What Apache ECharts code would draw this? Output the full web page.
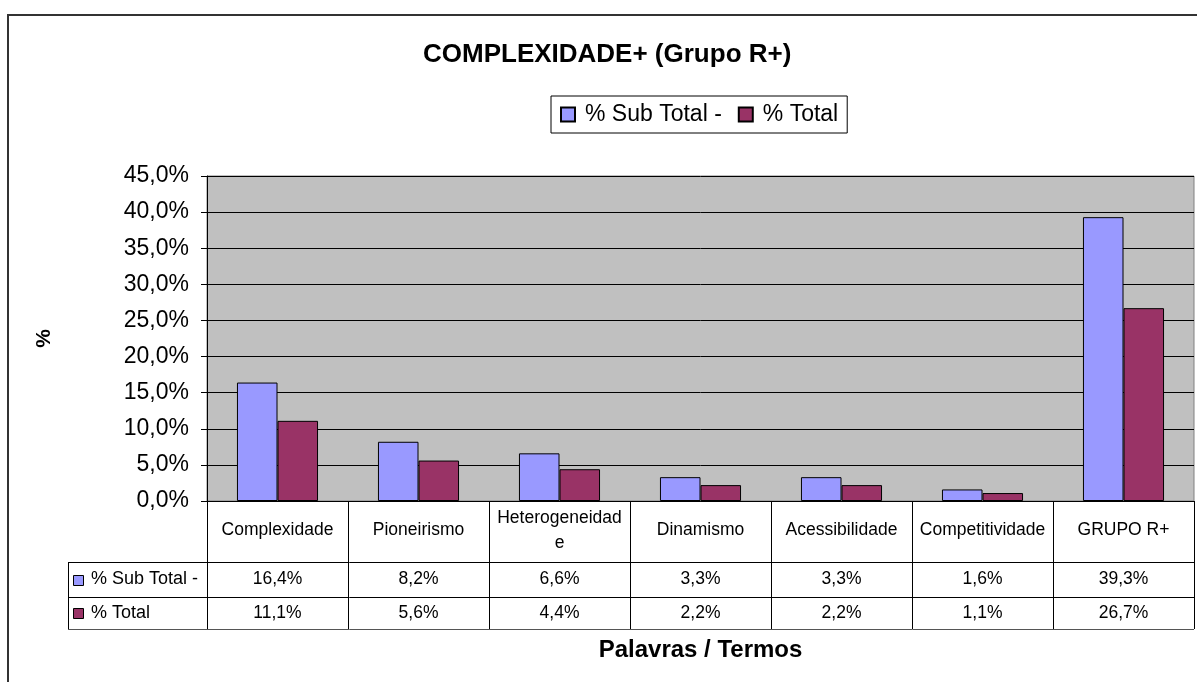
<html lang="pt">
  <head>
    <meta charset="UTF-8" />
    <title>COMPLEXIDADE+ (Grupo R+)</title>
    <style>
      html, body { margin: 0; padding: 0; background: #fff; }
    </style>
  </head>
  <body>
    <div id="main" style="width: 1197px; height: 682px"></div>

    <script src="https://cdn.jsdelivr.net/npm/echarts@6/dist/echarts.min.js"></script>
    <script>
      // dados do gráfico
      const categories = ['Complexidade', 'Pioneirismo', 'Heterogeneidade', 'Dinamismo', 'Acessibilidade', 'Competitividade', 'GRUPO R+']
      const seriesNames = ['% Sub Total -', '% Total']
      const subTotal = [16.4, 8.2, 6.6, 3.3, 3.3, 1.6, 39.3]
      const total = [11.1, 5.6, 4.4, 2.2, 2.2, 1.1, 26.7]
      const colors = ['#9999FF', '#993366']

      const font = 'Arial, "Liberation Sans", sans-serif'
      const fmt = v => v.toFixed(1).replace('.', ',') + '%'

      const chart = echarts.init(document.querySelector('#main'))

      let option = {
        animation: false,
        textStyle: { fontFamily: font, color: '#000' },
        title: {
          text: 'COMPLEXIDADE+ (Grupo R+)',
          left: 423,
          top: 42,
          padding: 0,
          textStyle: { fontSize: 26, fontWeight: 'bold', color: '#000', fontFamily: font }
        },
        legend: {
          left: 551,
          top: 96,
          padding: [7, 9, 7, 9],
          borderColor: '#000',
          borderWidth: 1,
          backgroundColor: '#fff',
          itemWidth: 14,
          itemHeight: 14,
          itemGap: 16,
          icon: 'rect',
          textStyle: { fontSize: 23, color: '#000', fontFamily: font, padding: [0, 0, 0, 5] },
          data: seriesNames
        },
        grid: {
          left: 207,
          right: 3,
          top: 176,
          bottom: 181,
          show: true,
          backgroundColor: '#C0C0C0',
          borderColor: '#808080',
          borderWidth: 1
        },
        xAxis: {
          type: 'category',
          data: categories,
          axisLine: { lineStyle: { color: '#000', width: 1 } },
          axisTick: { show: false },
          axisLabel: { show: false },
          name: 'Palavras / Termos',
          nameLocation: 'middle',
          nameGap: 137,
          nameTextStyle: { fontSize: 24, fontWeight: 'bold', color: '#000', fontFamily: font }
        },
        yAxis: {
          type: 'value',
          min: 0,
          max: 45,
          interval: 5,
          axisLine: { show: true, lineStyle: { color: '#000', width: 1 } },
          axisTick: { show: true, length: 6, lineStyle: { color: '#000' } },
          axisLabel: { fontSize: 23, color: '#000', margin: 18, formatter: fmt },
          splitLine: { lineStyle: { color: '#000', width: 1 } },
          name: '%',
          nameLocation: 'middle',
          nameGap: 152,
          nameRotate: 90,
          nameTextStyle: { fontSize: 21, fontWeight: 'bold', color: '#000', fontFamily: font }
        },
        series: [
          {
            name: seriesNames[0],
            type: 'bar',
            data: subTotal,
            barGap: '0%',
            barCategoryGap: '42.5%',
            itemStyle: { color: colors[0], borderColor: '#000', borderWidth: 1 }
          },
          {
            name: seriesNames[1],
            type: 'bar',
            data: total,
            itemStyle: { color: colors[1], borderColor: '#000', borderWidth: 1 }
          }
        ]
      }
      chart.setOption(option)

      // tabela de dados abaixo do eixo
      const xa = chart.convertToPixel({ xAxisIndex: 0 }, 0)
      const xb = chart.convertToPixel({ xAxisIndex: 0 }, 1)
      const band = xb - xa
      const yBase = chart.convertToPixel({ yAxisIndex: 0 }, 0)
      const tableLeft = 68
      const colLeft = xa - band / 2
      const colRight = colLeft + band * categories.length
      const rows = [yBase, yBase + 61, yBase + 96, yBase + 128]

      const g = []
      const line = (x1, y1, x2, y2, color) => g.push({
        type: 'line',
        shape: { x1, y1, x2, y2 },
        style: { stroke: color || '#000', lineWidth: 1 },
        silent: true
      })

      for (let i = 0; i <= categories.length; i++) {
        const x = Math.round(colLeft + band * i) + 0.5
        line(x, rows[0], x, rows[3])
      }
      line(tableLeft + 0.5, rows[1], tableLeft + 0.5, rows[3])
      line(tableLeft, Math.round(rows[1]) + 0.5, colRight, Math.round(rows[1]) + 0.5)
      line(tableLeft, Math.round(rows[2]) + 0.5, colRight, Math.round(rows[2]) + 0.5)
      line(tableLeft, Math.round(rows[3]) + 0.5, colRight, Math.round(rows[3]) + 0.5, '#555')

      categories.forEach((c, i) => {
        const cx = colLeft + band * (i + 0.5)
        g.push({
          type: 'text',
          x: cx,
          y: (rows[0] + rows[1]) / 2 - 1,
          style: {
            text: c,
            width: band - 12,
            overflow: 'breakAll',
            lineHeight: 25,
            align: 'center',
            verticalAlign: 'middle',
            fontSize: 17.5,
            fontFamily: font,
            fill: '#000'
          },
          silent: true
        })
        ;[subTotal, total].forEach((arr, r) => {
          g.push({
            type: 'text',
            x: cx,
            y: (rows[r + 1] + rows[r + 2]) / 2,
            style: {
              text: fmt(arr[i]),
              align: 'center',
              verticalAlign: 'middle',
              fontSize: 17.5,
              fontFamily: font,
              fill: '#000'
            },
            silent: true
          })
        })
      })

      seriesNames.forEach((n, r) => {
        const cy = (rows[r + 1] + rows[r + 2]) / 2
        g.push({
          type: 'rect',
          shape: { x: 73.5, y: Math.round(cy - 5) + 0.5, width: 10, height: 10 },
          style: { fill: colors[r], stroke: '#000', lineWidth: 1 },
          silent: true
        })
        g.push({
          type: 'text',
          x: 91,
          y: cy,
          style: { text: n, align: 'left', verticalAlign: 'middle', fontSize: 18, fontFamily: font, fill: '#000' },
          silent: true
        })
      })

      // moldura externa do gráfico
      g.push({
        type: 'rect',
        shape: { x: 8, y: 15, width: 1220, height: 720 },
        style: { fill: null, stroke: '#333', lineWidth: 2 },
        silent: true,
        z: 100
      })

      chart.setOption({ graphic: g })
    </script>
  </body>
</html>
